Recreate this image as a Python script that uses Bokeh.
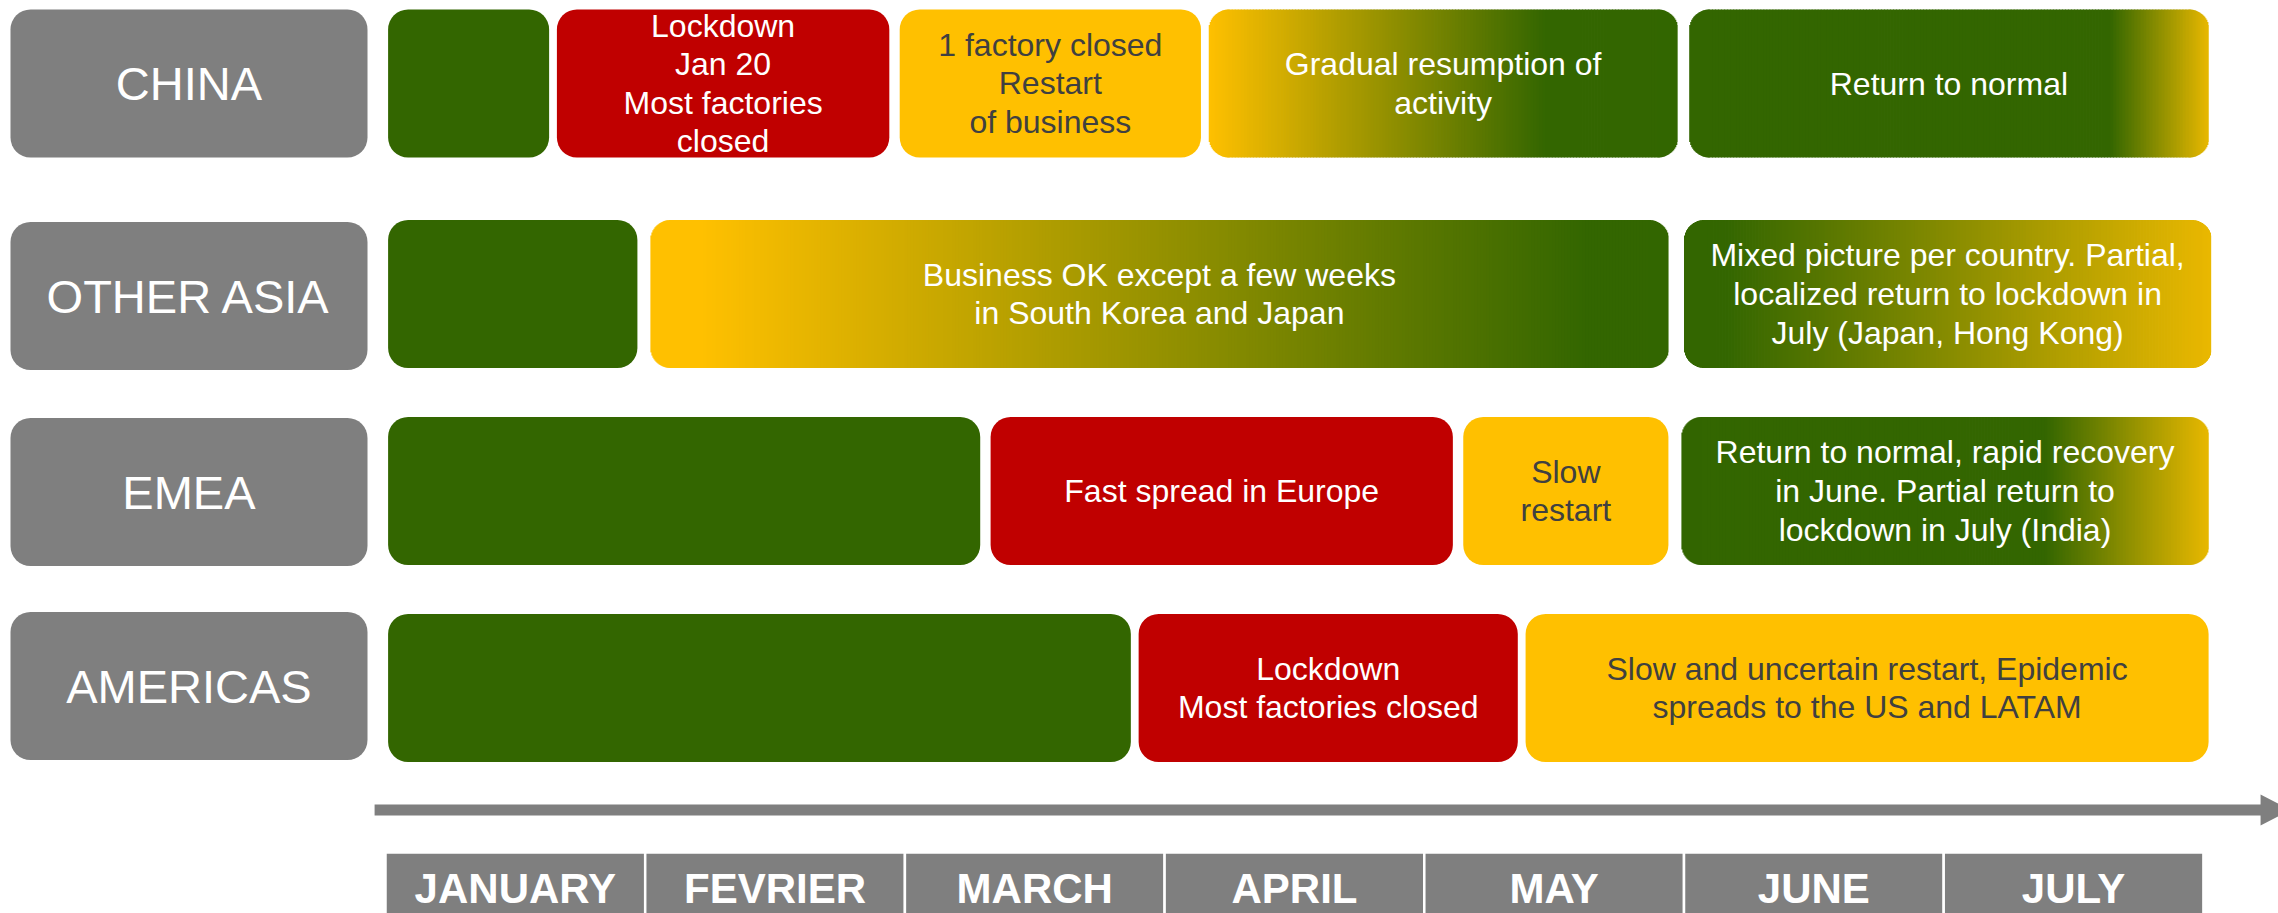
import numpy as np
from bokeh.plotting import figure
from bokeh.models import Range1d
from bokeh.core.properties import value
from bokeh.embed import file_html
from bokeh.resources import INLINE

# ---------------- data ----------------
regions = ["CHINA", "OTHER ASIA", "EMEA", "AMERICAS"]
months = ["JANUARY", "FEVRIER", "MARCH", "APRIL", "MAY", "JUNE", "JULY"]

# phases (positions in months since Jan 1)
seg_region = [0, 0, 0, 0, 0,
              1, 1, 1,
              2, 2, 2, 2,
              3, 3, 3]
seg_start = [0.01, 0.66, 1.98, 3.17, 5.02,
             0.01, 1.02, 5.00,
             0.01, 2.33, 4.15, 4.99,
             0.01, 2.90, 4.39]
seg_end = [0.63, 1.94, 3.14, 4.975, 7.02,
           0.97, 4.94, 7.03,
           2.29, 4.11, 4.94, 7.02,
           2.87, 4.36, 7.02]
seg_text = ["",
            "Lockdown\nJan 20\nMost factories\nclosed",
            "1 factory closed\nRestart\nof business",
            "Gradual resumption of\nactivity",
            "Return to normal",
            "",
            "Business OK except a few weeks\nin South Korea and Japan",
            "Mixed picture per country. Partial,\nlocalized return to lockdown in\nJuly (Japan, Hong Kong)",
            "",
            "Fast spread in Europe",
            "Slow\nrestart",
            "Return to normal, rapid recovery\nin June. Partial return to\nlockdown in July (India)",
            "",
            "Lockdown\nMost factories closed",
            "Slow and uncertain restart, Epidemic\nspreads to the US and LATAM"]

# ---------------- styles / layout ----------------
GREEN = "#336600"
RED = "#C00000"
YELLOW = "#FFC000"
GRAY = "#7F7F7F"
DARK = "#404040"
WHITE = "#FFFFFF"

seg_fill = [GREEN, RED, YELLOW,
            [(0.0, YELLOW), (0.72, GREEN), (1.0, GREEN)],
            [(0.0, GREEN), (0.81, GREEN), (1.0, "#E8B800")],
            GREEN,
            [(0.0, YELLOW), (0.05, YELLOW), (0.92, GREEN), (1.0, GREEN)],
            [(0.0, GREEN), (0.08, GREEN), (1.0, "#EAB800")],
            GREEN, RED, YELLOW,
            [(0.0, GREEN), (0.69, GREEN), (1.0, "#E8B800")],
            GREEN, RED, YELLOW]
seg_text_color = [WHITE, WHITE, DARK, WHITE, WHITE,
                  WHITE, WHITE, WHITE,
                  WHITE, WHITE, DARK, WHITE,
                  WHITE, WHITE, DARK]

FONT = "Liberation Sans"
W, H = 2278, 913
PX_M = 259.7                           # pixels per month
X0 = 385                               # pixel of Jan 1
LABEL_Y = [83, 295.5, 491.5, 685.5]    # row centres of region labels (px from top)
BAR_Y = [83, 293.5, 490.5, 687.5]      # row centres of phase bars (px from top)
HALF = 74
RAD = 20

p = figure(width=W, height=H, output_backend="svg", toolbar_location=None,
           x_range=Range1d(-X0 / PX_M, (W - X0) / PX_M),
           y_range=Range1d(H, 0),
           x_axis_type=None, y_axis_type=None, min_border=0,
           outline_line_color=None, background_fill_color="white")
p.grid.visible = False


def h2rgb(h):
    h = h.lstrip("#")
    return np.array([int(h[i:i + 2], 16) for i in (0, 2, 4)], dtype=float)


def grad_color(stops, f):
    for (f0, c0), (f1, c1) in zip(stops[:-1], stops[1:]):
        if f <= f1:
            t = 0 if f1 == f0 else (f - f0) / (f1 - f0)
            c = h2rgb(c0) * (1 - t) + h2rgb(c1) * t
            return "#%02x%02x%02x" % tuple(int(round(v)) for v in c)
    return stops[-1][1]


# region label boxes
p.quad(left=[-1.444] * 4, right=[-0.0693] * 4,
       top=[y - HALF for y in LABEL_Y], bottom=[y + HALF for y in LABEL_Y],
       fill_color=GRAY, line_color=None, border_radius=RAD)
p.text(x=[-0.757] * 4, y=LABEL_Y, text=regions, text_color=WHITE,
       text_font=value(FONT), text_font_size="47px",
       text_align="center", text_baseline="middle")

# phase bars
sl, sr, st, sb, sc = [], [], [], [], []
for r, x0, x1, fill in zip(seg_region, seg_start, seg_end, seg_fill):
    yc = BAR_Y[r]
    if isinstance(fill, str):
        p.quad(left=[x0], right=[x1], top=[yc - HALF], bottom=[yc + HALF],
               fill_color=fill, line_color=None, border_radius=RAD)
    else:
        wpx = (x1 - x0) * PX_M
        # strip edges in px from bar's left edge: fine in the corners
        e = list(np.arange(0, RAD, 1.0)) + list(np.linspace(RAD, wpx - RAD, int((wpx - 2 * RAD) / 3) + 1)) \
            + list(np.arange(wpx - RAD + 1, wpx + 0.01, 1.0))
        e = np.array(e)
        for a, b in zip(e[:-1], e[1:]):
            c = (a + b) / 2
            d = min(c, wpx - c)
            inset = 0.0
            if d < RAD:
                inset = RAD - np.sqrt(max(RAD ** 2 - (RAD - d) ** 2, 0.0))
            sl.append(x0 + a / PX_M)
            sr.append(x0 + min(b + 0.8, wpx) / PX_M)
            st.append(yc - HALF + inset)
            sb.append(yc + HALF - inset)
            sc.append(grad_color(fill, c / wpx))
p.quad(left=sl, right=sr, top=st, bottom=sb, fill_color=sc, line_color=None)

tx = [(a + b) / 2 for a, b in zip(seg_start, seg_end)]
ty = [BAR_Y[r] for r in seg_region]
p.text(x=tx, y=ty, text=seg_text, text_color=seg_text_color,
       text_font=value(FONT), text_font_size="32px", text_line_height=1.07,
       text_align="center", text_baseline="middle")

# time arrow
AY = 809.5
p.segment(x0=[-0.042], y0=[AY], x1=[7.23], y1=[AY],
          line_color=GRAY, line_width=11, line_cap="butt")
p.patch(x=[7.22, 7.22, 7.335], y=[AY - 15.5, AY + 15.5, AY],
        fill_color=GRAY, line_color=None)

# month header
mi = list(range(len(months)))
p.quad(left=mi, right=[m + 1 for m in mi], top=[852] * 7, bottom=[930] * 7,
       fill_color=GRAY, line_color="white", line_width=2.5)
p.text(x=[m + 0.5 for m in mi], y=[888] * 7, text=months, text_color=WHITE,
       text_font=value(FONT), text_font_size="42px", text_font_style="bold",
       text_align="center", text_baseline="middle")

open("out.html", "w").write(file_html(p, INLINE))
